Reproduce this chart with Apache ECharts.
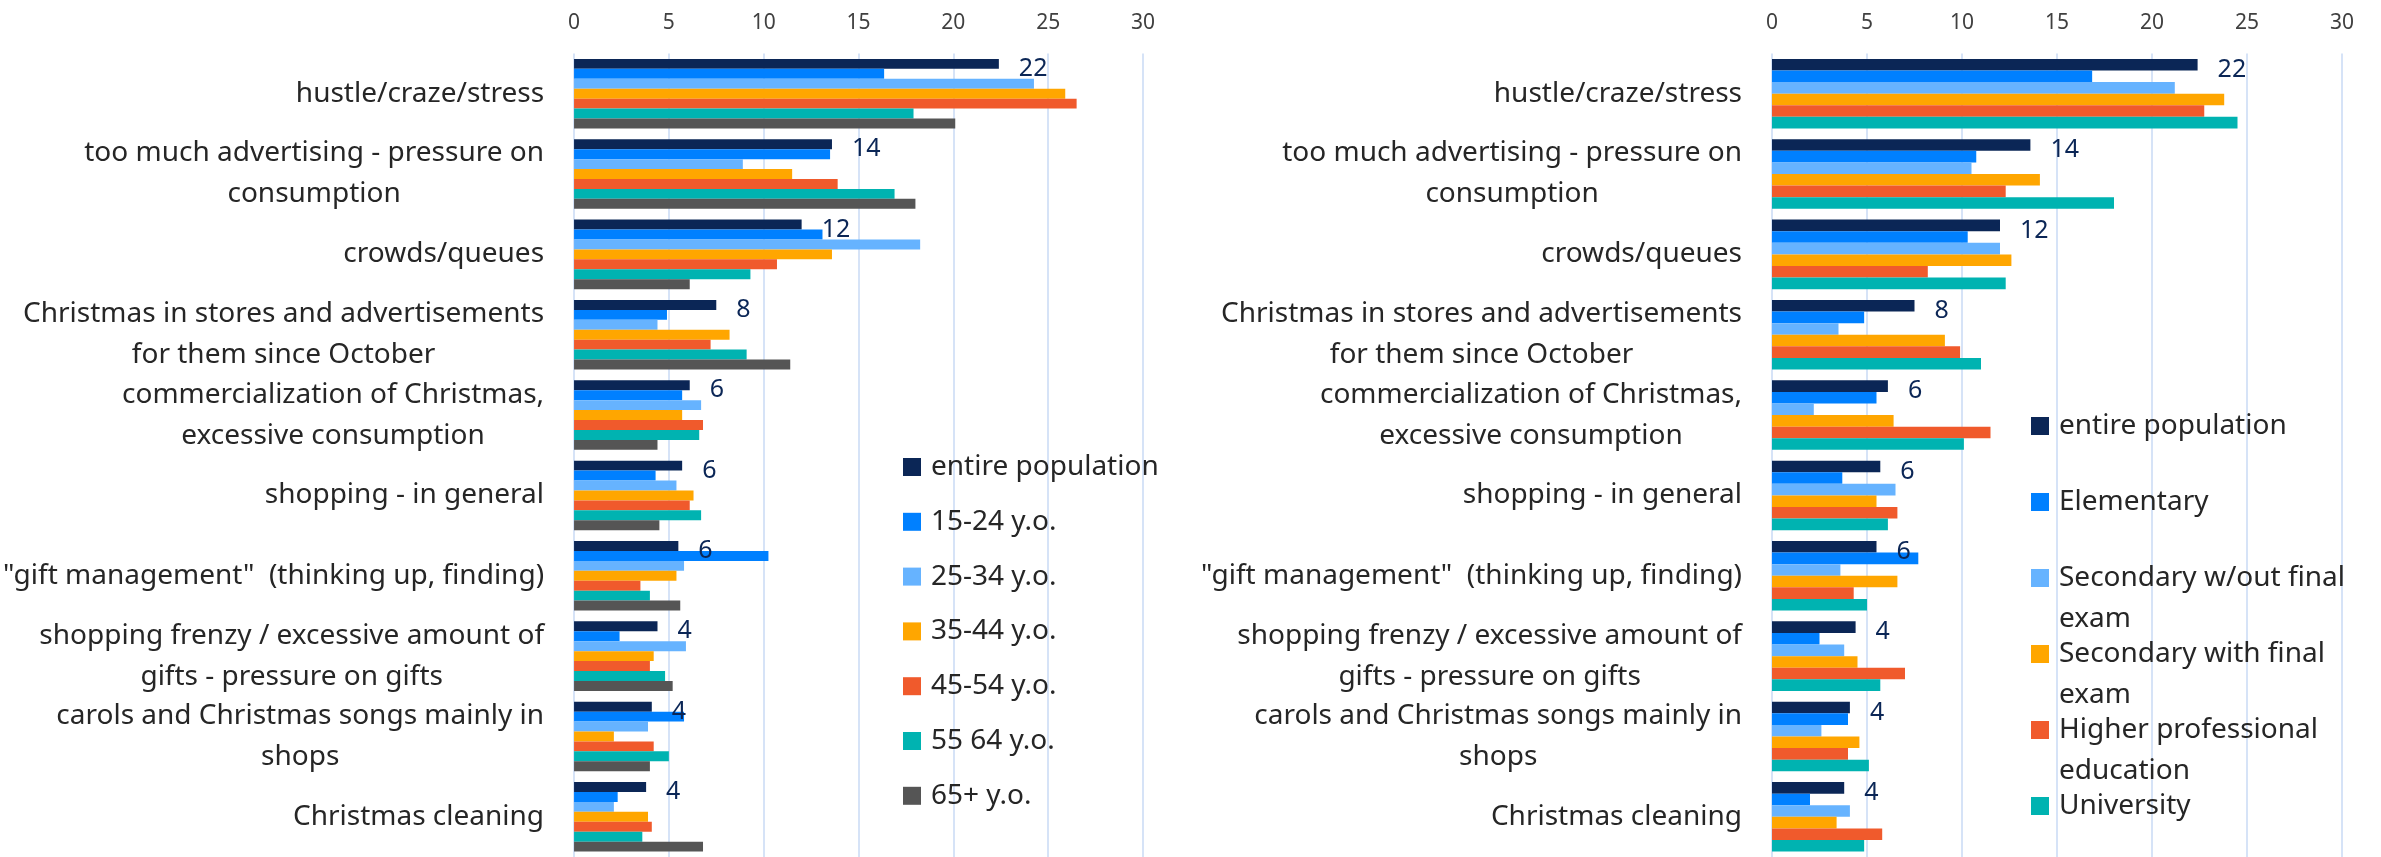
<!DOCTYPE html>
<html><head><meta charset="utf-8">
<script src="https://cdn.jsdelivr.net/npm/echarts@6/dist/echarts.min.js"></script>
<style>html,body{margin:0;padding:0;background:#fff}#c{width:2381px;height:857px}</style>
</head><body><div id="c"></div>
<script>
const categories = [
  'hustle/craze/stress',
  'too much advertising - pressure on\nconsumption',
  'crowds/queues',
  'Christmas in stores and advertisements\nfor them since October',
  'commercialization of Christmas,\nexcessive consumption',
  'shopping - in general',
  '"gift management"  (thinking up, finding)',
  'shopping frenzy / excessive amount of\ngifts - pressure on gifts',
  'carols and Christmas songs mainly in\nshops',
  'Christmas cleaning'
];
const xTicks = [0, 5, 10, 15, 20, 25, 30];

// entire population (shared by both panels)
const entirePopulation = [22.4, 13.6, 12.0, 7.5, 6.1, 5.7, 5.5, 4.4, 4.1, 3.8];

// age groups (left panel)
const age15_24 = [16.35, 13.5, 13.1, 4.9, 5.7, 4.3, 10.25, 2.4, 5.8, 2.3];
const age25_34 = [24.25, 8.9, 18.25, 4.4, 6.7, 5.4, 5.8, 5.9, 3.9, 2.1];
const age35_44 = [25.9, 11.5, 13.6, 8.2, 5.7, 6.3, 5.4, 4.2, 2.1, 3.9];
const age45_54 = [26.5, 13.9, 10.7, 7.2, 6.8, 6.1, 3.5, 4.0, 4.2, 4.1];
const age55_64 = [17.9, 16.9, 9.3, 9.1, 6.6, 6.7, 4.0, 4.8, 5.0, 3.6];
const age65plus = [20.1, 18.0, 6.1, 11.4, 4.4, 4.5, 5.6, 5.2, 4.0, 6.8];

// education groups (right panel)
const eduElementary = [16.85, 10.75, 10.3, 4.85, 5.5, 3.7, 7.7, 2.5, 4.0, 2.0];
const eduSecNoExam = [21.2, 10.5, 12.0, 3.5, 2.2, 6.5, 3.6, 3.8, 2.6, 4.1];
const eduSecWithExam = [23.8, 14.1, 12.6, 9.1, 6.4, 5.5, 6.6, 4.5, 4.6, 3.4];
const eduHigherProf = [22.75, 12.3, 8.2, 9.9, 11.5, 6.6, 4.3, 7.0, 4.0, 5.8];
const eduUniversity = [24.5, 18.0, 12.3, 11.0, 10.1, 6.1, 5.0, 5.7, 5.1, 4.85];

const ageNames = ['entire population', '15-24 y.o.', '25-34 y.o.', '35-44 y.o.', '45-54 y.o.', '55 64 y.o.', '65+ y.o.'];
const eduNames = ['entire population', 'Elementary', 'Secondary w/out final\nexam', 'Secondary with final\nexam', 'Higher professional\neducation', 'University'];

const ageValues = [entirePopulation, age15_24, age25_34, age35_44, age45_54, age55_64, age65plus];
const eduValues = [entirePopulation, eduElementary, eduSecNoExam, eduSecWithExam, eduHigherProf, eduUniversity];

const ageColors = ['#0b2656', '#0080ff', '#66b3ff', '#ffa600', '#f05a2c', '#00b3b1', '#555555'];
const eduColors = ['#0b2656', '#0080ff', '#66b3ff', '#ffa600', '#f05a2c', '#00b3b1'];

const FONT = '"Comic Sans MS", "Noto Sans", sans-serif';
const TXT = '#262626';

function makeSeries(names, values, colors, idx) {
  return names.map((n, i) => ({
    type: 'bar', name: n, xAxisIndex: idx, yAxisIndex: idx,
    data: values[i],
    itemStyle: { color: colors[i] },
    barGap: '0%', barCategoryGap: '13.5%',
    emphasis: { disabled: true },
    label: i === 0 ? {
      show: true, position: 'right', distance: 20, offset: [0, 5],
      formatter: p => String(Math.round(p.value)),
      fontSize: 25, color: '#0b2656', fontFamily: FONT
    } : { show: false }
  }));
}

function xAxis(idx) {
  return {
    type: 'value', gridIndex: idx, position: 'top', min: xTicks[0], max: xTicks[xTicks.length - 1], interval: 5,
    axisLine: { show: false }, axisTick: { show: false },
    axisLabel: { fontSize: 21, color: '#404040', margin: 20, fontFamily: FONT },
    splitLine: { show: true, lineStyle: { color: '#d6e3f7', width: 2 } }
  };
}
function yAxis(idx) {
  return {
    type: 'category', gridIndex: idx, data: categories, inverse: true,
    axisLine: { show: false }, axisTick: { show: false },
    axisLabel: {
      margin: 30, align: 'right',
      formatter: v => v.split('\n').map(l => '{c|' + l + '}').join('\n'),
      rich: { c: { align: 'center', fontSize: 28, lineHeight: 41, color: TXT, fontFamily: FONT } }
    }
  };
}

const chart = echarts.init(document.getElementById('c'), null, { renderer: 'canvas' });
chart.setOption({
  animation: false,
  backgroundColor: '#ffffff',
  textStyle: { fontFamily: FONT },
  grid: [
    { left: 573, width: 570, top: 53.5, height: 810 },
    { left: 1772, width: 570, top: 53.5, height: 810 }
  ],
  xAxis: [xAxis(0), xAxis(1)],
  yAxis: [yAxis(0), yAxis(1)],
  legend: [
    {
      orient: 'vertical', left: 903, top: 452, padding: 0,
      itemWidth: 18, itemHeight: 18, itemGap: 24.8, icon: 'rect',
      data: ageNames, selectedMode: false,
      textStyle: { fontSize: 28, lineHeight: 30, color: TXT, fontFamily: FONT, padding: [0, 0, 0, 5] }
    },
    {
      orient: 'vertical', left: 2031, top: 364.5, height: 560, padding: 0,
      itemWidth: 18, itemHeight: 18, itemGap: -47, icon: 'rect',
      data: eduNames, selectedMode: false,
      // first line of every entry sits level with its marker
      formatter: name => '\n' + name + (name.indexOf('\n') >= 0 ? '' : '\n'),
      textStyle: { fontSize: 28, lineHeight: 41, color: TXT, fontFamily: FONT, padding: [0, 0, 0, 5] }
    }
  ],
  series: makeSeries(ageNames, ageValues, ageColors, 0).concat(makeSeries(eduNames, eduValues, eduColors, 1))
});
</script></body></html>
